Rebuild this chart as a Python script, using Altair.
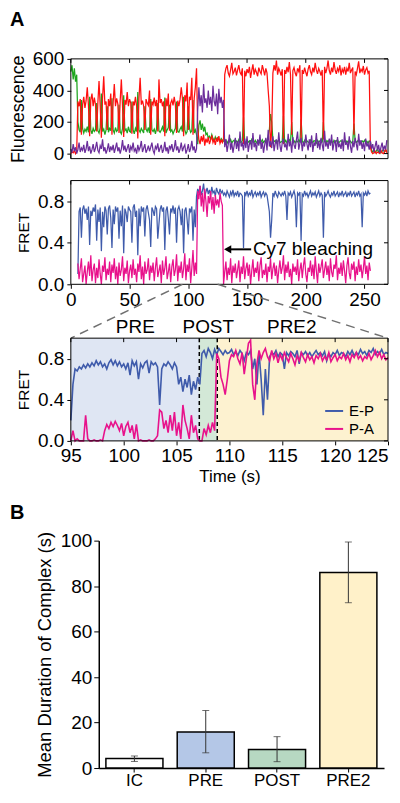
import altair as alt
import pandas as pd

FONT = "Liberation Sans"

# ---------------- Panel A, top: fluorescence traces (1 s per point from t = 0 s)
FL_T0 = 0
FL_DT = 1
GREEN = [
    520, 560, 470, 540, 455, 500,
    200, 150, 135, 340, 160, 130, 155, 140, 170, 135,
    360, 150, 125, 160, 140, 150, 320, 145, 130, 165,
    380, 140, 155, 120, 150, 300, 135, 160, 145, 350,
    150, 130, 165, 140, 150, 310, 140, 125, 160, 370,
    145, 155, 130, 170, 140, 135, 330, 150, 125, 160,
    140, 390, 150, 135, 160, 145, 130, 300, 155, 140,
    165, 130, 345, 150, 140, 155, 125, 160, 320, 145,
    135, 150, 170, 140, 355, 130, 150, 165, 310, 140,
    150, 125, 145, 160, 330, 140, 135, 155, 170, 140,
    360, 150, 125, 140, 300, 160, 135, 145, 340, 130, 150, 120,
    60, 180, 210, 150, 190, 140, 170, 120, 130, 100,
    110, 90, 120, 95, 80, 105, 85, 100, 90, 75,
    95, 85, 80,
    70, 85, 65, 80, 75, 90, 68, 78, 85, 72,
    80, 66, 88, 74, 70, 82, 230, 76, 68, 85,
    72, 80, 65, 90, 75, 70, 84, 68, 78, 82,
    66, 74, 88, 70, 80, 72, 85, 110, 150, 250,
    200, 90, 75, 82, 68, 78, 86, 70, 74, 80,
    240, 72, 84, 66, 78, 88, 70, 200, 76, 82,
    68, 80, 74, 86, 70, 220, 78, 66, 84, 72,
    80, 74, 68, 86, 76, 70, 82, 78, 66, 84,
    72, 80, 88, 70, 200, 76, 68, 82, 74, 86,
    70, 78, 66, 84, 72, 80, 88, 68, 76, 82,
    74, 66, 86, 72, 80, 70, 84, 78, 68, 76,
    190, 82, 70, 78, 86, 66, 74, 80, 72, 84,
    70, 78, 66, 80, 74,
    20, 10, 25, 5, 15, 30, 10, 20, 5, 15, 25, 10, 20, 15,
]
RED = [
    0, 10, 5, 20, 0, 15,
    330, 300, 345, 120, 310, 360, 290, 335, 420, 305,
    110, 340, 380, 300, 355, 310, 140, 320, 460, 300,
    100, 350, 490, 310, 330, 150, 345, 300, 380, 120,
    320, 440, 300, 350, 315, 130, 335, 470, 300, 105,
    340, 310, 390, 300, 345, 320, 125, 330, 305, 360,
    300, 95, 350, 480, 310, 335, 300, 150, 345, 320,
    305, 400, 120, 330, 310, 355, 300, 340, 140, 470,
    320, 345, 300, 330, 110, 350, 300, 380, 145, 320,
    340, 305, 360, 310, 130, 335, 300, 345, 420, 350,
    110, 370, 330, 450, 150, 360, 340, 480, 120, 350, 420, 540,
    160, 90, 60, 110, 75, 120, 50, 95, 70, 105,
    60, 85, 115, 70, 90, 55, 100, 75, 110, 65,
    85, 70, 95,
    500, 540, 560, 510, 490, 530, 575, 505, 520, 545,
    495, 530, 560, 515, 500, 540, 60, 525, 490, 535,
    510, 550, 480, 525, 565, 500, 535, 515, 490, 545,
    520, 505, 560, 530, 495, 540, 510, 400, 300, 40,
    150, 510, 560, 525, 590, 500, 540, 520, 495, 535,
    60, 530, 505, 550, 515, 580, 500, 120, 525, 545,
    510, 490, 540, 520, 560, 80, 530, 505, 545, 515,
    490, 535, 560, 520, 500, 545, 515, 575, 530, 505,
    540, 520, 495, 530, 90, 550, 510, 540, 590, 525,
    500, 545, 515, 580, 530, 505, 540, 520, 560, 495,
    535, 515, 550, 500, 540, 520, 575, 510, 530, 545,
    120, 520, 500, 540, 585, 510, 535, 520, 555, 500,
    530, 545, 510, 525, 40,
    10, 0, 5, 15, 0, 10, 5, 0, 20, 5, 0, 10, 30, 5,
]
PURPLE = [
    30, 5, 60, 15, 40, 0, 25, 70, 10, 35,
    20, 55, 5, 30, 80, 15, 45, 0, 25, 60,
    10, 35, 75, 20, 5, 50, 30, 90, 15, 40,
    0, 25, 65, 10, 45, 20, 55, 5, 35, 70,
    15, 40, 0, 30, 85, 20, 50, 10, 35, 60,
    5, 45, 25, 70, 15, 30, 0, 55, 20, 40,
    80, 10, 35, 60, 5, 25, 50, 15, 40, 70,
    20, 0, 45, 30, 65, 10, 35, 55, 5, 25,
    75, 15, 40, 0, 50, 30, 60, 10, 35, 85,
    20, 45, 5, 30, 70, 15, 40, 55, 0, 25,
    60, 10, 35, 80, 20, 45, 5, 30,
    280, 420, 300, 370, 260, 440, 320, 350, 290, 400,
    310, 360, 270, 430, 330, 300, 380, 250, 410, 320,
    360, 290, 340,
    40, 90, 10, 60, 120, 25, 70, 5, 50, 100,
    30, 80, 15, 140, 45, 65, 20, 95, 35, 110,
    10, 60, 85, 25, 130, 40, 70, 15, 90, 50,
    120, 30, 75, 5, 55, 100, 20, 150, 45, 80,
    35, 110, 15, 65, 90, 25, 135, 50, 10, 70,
    95, 40, 60, 20, 125, 45, 80, 5, 105, 55,
    30, 85, 140, 25, 65, 100, 15, 75, 45, 120,
    60, 20, 90, 40, 115, 10, 70, 50, 130, 35,
    80, 25, 100, 55, 15, 145, 45, 75, 30, 95,
    50, 120, 20, 65, 85, 10, 105, 40, 60, 30,
    90, 15, 135, 55, 75, 25, 110, 45, 5, 80,
    40, 100, 60, 20, 125, 50, 85, 30, 70, 15,
    95, 45, 65, 25, 80,
    30, 60, 10, 45, 80, 20, 55, 5, 40, 70, 15, 50, 25, 85,
]

# ---------------- Panel A, middle: FRET traces (1 s per point from t = 6 s)
FRET_T0 = 6
FRET_DT = 1
FRET_EP = [
    0.10, 0.70, 0.74, 0.45, 0.72, 0.76, 0.68, 0.73, 0.62, 0.75,
    0.38, 0.71, 0.66, 0.74, 0.70, 0.77, 0.42, 0.72, 0.60, 0.74,
    0.32, 0.70, 0.55, 0.75, 0.71, 0.48, 0.73, 0.76, 0.64, 0.35,
    0.72, 0.58, 0.75, 0.70, 0.74, 0.44, 0.71, 0.56, 0.76, 0.30,
    0.73, 0.69, 0.60, 0.75, 0.72, 0.70, 0.40, 0.74, 0.77, 0.65,
    0.71, 0.28, 0.73, 0.56, 0.75, 0.70, 0.74, 0.46, 0.72, 0.76,
    0.69, 0.62, 0.36, 0.74, 0.71, 0.66, 0.75, 0.73, 0.44, 0.58,
    0.72, 0.76, 0.70, 0.74, 0.33, 0.71, 0.75, 0.63, 0.48, 0.73,
    0.70, 0.76, 0.68, 0.74, 0.40, 0.72, 0.75, 0.70, 0.57, 0.73,
    0.30, 0.71, 0.74, 0.62, 0.48, 0.73, 0.70, 0.75, 0.42, 0.72, 0.55, 0.85,
    0.92, 0.88, 0.95, 0.86, 0.90, 0.97, 0.85, 0.89, 0.93, 0.87,
    0.91, 0.86, 0.94, 0.88, 0.90, 0.85, 0.93, 0.89, 0.87, 0.92,
    0.88, 0.90, 0.86,
    0.88, 0.85, 0.90, 0.87, 0.84, 0.89, 0.86, 0.91, 0.85, 0.88,
    0.86, 0.90, 0.84, 0.88, 0.87, 0.85, 0.35, 0.89, 0.86, 0.90,
    0.85, 0.88, 0.86, 0.91, 0.84, 0.87, 0.89, 0.85, 0.88, 0.86,
    0.90, 0.84, 0.87, 0.89, 0.85, 0.88, 0.86, 0.78, 0.70, 0.45,
    0.62, 0.88, 0.85, 0.90, 0.86, 0.84, 0.89, 0.87, 0.85, 0.88,
    0.86, 0.90, 0.85, 0.62, 0.88, 0.86, 0.89, 0.84, 0.87, 0.90,
    0.85, 0.55, 0.88, 0.86, 0.89, 0.42, 0.87, 0.85, 0.90, 0.86,
    0.88, 0.84, 0.87, 0.90, 0.85, 0.88, 0.86, 0.89, 0.84, 0.87,
    0.90, 0.85, 0.88, 0.86, 0.45, 0.89, 0.85, 0.87, 0.90, 0.86,
    0.84, 0.88, 0.86, 0.90, 0.85, 0.87, 0.89, 0.84, 0.88, 0.86,
    0.90, 0.85, 0.87, 0.89, 0.84, 0.88, 0.86, 0.90, 0.85, 0.87,
    0.89, 0.84, 0.88, 0.86, 0.90, 0.85, 0.87, 0.55, 0.88, 0.86,
    0.89, 0.85, 0.90, 0.87, 0.88,
]
FRET_PA = [
    0.20, 0.05, 0.15, 0.25, 0.02, 0.10, 0.18, 0.00, 0.12, 0.22,
    0.08, 0.28, 0.03, 0.14, 0.20, 0.01, 0.16, 0.06, 0.24, 0.10,
    0.00, 0.18, 0.12, 0.26, 0.04, 0.15, 0.09, 0.22, 0.02, 0.19,
    0.11, 0.25, 0.05, 0.17, 0.00, 0.21, 0.08, 0.14, 0.27, 0.03,
    0.16, 0.10, 0.23, 0.01, 0.13, 0.19, 0.06, 0.24, 0.09, 0.15,
    0.02, 0.20, 0.12, 0.28, 0.05, 0.17, 0.00, 0.22, 0.10, 0.14,
    0.25, 0.04, 0.18, 0.11, 0.21, 0.03, 0.16, 0.26, 0.07, 0.13,
    0.19, 0.01, 0.23, 0.09, 0.15, 0.27, 0.05, 0.12, 0.20, 0.02,
    0.17, 0.24, 0.08, 0.14, 0.29, 0.03, 0.18, 0.11, 0.22, 0.06,
    0.15, 0.30, 0.04, 0.19, 0.12, 0.25, 0.01, 0.16, 0.33, 0.08, 0.21, 0.10,
    0.90, 0.82, 0.95, 0.75, 0.88, 0.70, 0.92, 0.80, 0.65, 0.85,
    0.78, 0.90, 0.72, 0.84, 0.68, 0.86, 0.76, 0.82, 0.74, 0.88,
    0.80, 0.76, 0.00,
    0.12, 0.22, 0.04, 0.16, 0.09, 0.25, 0.01, 0.18, 0.11, 0.20,
    0.06, 0.14, 0.23, 0.02, 0.17, 0.10, 0.27, 0.05, 0.15, 0.21,
    0.08, 0.19, 0.00, 0.13, 0.24, 0.07, 0.16, 0.11, 0.22, 0.03,
    0.18, 0.26, 0.06, 0.14, 0.09, 0.20, 0.02, 0.17, 0.12, 0.25,
    0.05, 0.15, 0.21, 0.08, 0.18, 0.01, 0.13, 0.23, 0.10, 0.16,
    0.28, 0.04, 0.19, 0.11, 0.22, 0.07, 0.15, 0.00, 0.20, 0.12,
    0.17, 0.09, 0.24, 0.03, 0.14, 0.21, 0.06, 0.18, 0.26, 0.10,
    0.02, 0.16, 0.12, 0.23, 0.08, 0.19, 0.05, 0.27, 0.13, 0.01,
    0.20, 0.11, 0.17, 0.24, 0.06, 0.14, 0.22, 0.09, 0.18, 0.03,
    0.25, 0.12, 0.07, 0.19, 0.15, 0.28, 0.04, 0.16, 0.10, 0.21,
    0.08, 0.23, 0.13, 0.01, 0.18, 0.26, 0.11, 0.05, 0.20, 0.14,
    0.22, 0.03, 0.17, 0.09, 0.24, 0.12, 0.19, 0.06, 0.15, 0.27,
    0.10, 0.18, 0.04, 0.21, 0.13,
]

# ---------------- Panel A, bottom: zoom 95-125 s (0.2 s per point)
ZOOM_T0 = 95
ZOOM_DT = 0.2
ZOOM_EP = [
    0.20, 0.55, 0.70, 0.68, 0.72, 0.70, 0.74, 0.71, 0.75, 0.72,
    0.76, 0.73, 0.78, 0.74, 0.77, 0.72, 0.75, 0.70, 0.76, 0.79,
    0.74, 0.78, 0.73, 0.77, 0.72, 0.75, 0.70, 0.76, 0.64, 0.78,
    0.73, 0.77, 0.60, 0.75, 0.71, 0.76, 0.78, 0.66, 0.77, 0.74,
    0.76, 0.72, 0.35, 0.70, 0.75, 0.73, 0.77, 0.74, 0.70, 0.76,
    0.72, 0.55, 0.62, 0.48, 0.60, 0.52, 0.64, 0.45, 0.58, 0.50,
    0.62, 0.55, 0.85, 0.88, 0.82, 0.90, 0.86, 0.80, 0.89, 0.84,
    0.90, 0.87, 0.84, 0.88, 0.85, 0.86, 0.89, 0.84, 0.87, 0.83,
    0.88, 0.85, 0.78, 0.86, 0.84, 0.88, 0.70, 0.80, 0.55, 0.86,
    0.60, 0.25, 0.70, 0.40, 0.82, 0.86, 0.84, 0.88, 0.82, 0.86,
    0.84, 0.70, 0.86, 0.83, 0.87, 0.85, 0.82, 0.88, 0.75, 0.86,
    0.84, 0.87, 0.83, 0.86, 0.82, 0.85, 0.88, 0.84, 0.86, 0.83,
    0.87, 0.78, 0.85, 0.82, 0.86, 0.84, 0.88, 0.83, 0.86, 0.85,
    0.82, 0.87, 0.84, 0.88, 0.83, 0.86, 0.84, 0.89, 0.85, 0.87,
    0.83, 0.88, 0.86, 0.90, 0.84, 0.87, 0.85, 0.89, 0.84, 0.86,
    0.85,
]
ZOOM_PA = [
    0.00, 0.10, 0.00, 0.02, 0.00, 0.00, 0.00, 0.25, 0.02, 0.00,
    0.00, 0.01, 0.00, 0.00, 0.01, 0.00, 0.10, 0.16, 0.12, 0.18,
    0.14, 0.19, 0.15, 0.10, 0.17, 0.05, 0.14, 0.18, 0.08, 0.15,
    0.02, 0.16, 0.00, 0.01, 0.00, 0.00, 0.00, 0.01, 0.00, 0.00,
    0.02, 0.05, 0.30, 0.28, 0.12, 0.20, 0.08, 0.25, 0.10, 0.28,
    0.05, 0.18, 0.02, 0.35, 0.20, 0.12, 0.02, 0.25, 0.08, 0.15,
    0.02, 0.00, 0.00, 0.12, 0.06, 0.15, 0.08, 0.18, 0.10, 0.85,
    0.80, 0.62, 0.55, 0.45, 0.60, 0.78, 0.84, 0.82, 0.88, 0.80,
    0.75, 0.86, 0.65, 0.80, 0.95, 0.98, 0.55, 0.40, 0.75, 0.88,
    0.80, 0.86, 0.90, 0.82, 0.78, 0.88, 0.80, 0.85, 0.76, 0.84,
    0.79, 0.86, 0.81, 0.77, 0.85, 0.80, 0.74, 0.83, 0.78, 0.86,
    0.81, 0.77, 0.84, 0.79, 0.82, 0.76, 0.83, 0.80, 0.85, 0.78,
    0.82, 0.79, 0.86, 0.77, 0.81, 0.84, 0.78, 0.82, 0.80, 0.85,
    0.79, 0.83, 0.77, 0.84, 0.81, 0.86, 0.80, 0.83, 0.78, 0.82,
    0.80, 0.85, 0.79, 0.83, 0.88, 0.82, 0.86, 0.80, 0.84, 0.79,
    0.81,
]
SERIES_NAMES = ["E-P", "P-A"]

REGION_NAMES = ["PRE", "POST", "PRE2"]
REGION_START = [95, 107.15, 108.85]
REGION_END = [107.15, 108.85, 125]
REGION_LABEL_X = [101.1, 108.0, 115.9]
REGION_BOUNDS = [107.15, 108.85]

BLEACH_ARROW = [133.5, 153.5]
BLEACH_TEXT_T = 155
BLEACH_Y = 0.337
ZOOM_WINDOW = [95, 125]

# ---------------- Panel B: bar chart
BAR_CATS = ["IC", "PRE", "POST", "PRE2"]
BAR_MEAN = [4.2, 15.9, 8.2, 86.0]
BAR_LO = [2.9, 6.7, 2.8, 72.7]
BAR_HI = [5.3, 25.3, 13.8, 99.4]

FL_TICKS = [0, 200, 400, 600]
T_TICKS = [0, 50, 100, 150, 200, 250]
FRET_TICKS = [0.0, 0.4, 0.8]
ZOOM_TICKS = [95, 100, 105, 110, 115, 120, 125]
BAR_TICKS = [0, 20, 40, 60, 80, 100]

# ---------------- styling
C_RED, C_GREEN, C_PURPLE = "#ff1010", "#1ea51e", "#6b2d9b"
C_BLUE, C_PINK = "#3f5bab", "#e8128b"
REGION_COLORS = ["#dfe6f3", "#d3e8d7", "#fdf2d0"]
BAR_COLORS = ["#ffffff", "#b4c7e7", "#b7d8c2", "#fff1c9"]

W = 318
H1, H2, H3, H4 = 100, 104, 103, 228
GAP12, GAP23, GAP34 = 22, 54, 100
TIN = 4
TRACE_W = 1.25


def times(t0, dt, n):
    return [round(t0 + i * dt, 2) for i in range(n)]


one = pd.DataFrame({"z": [0]})


def frame(h):
    return alt.Chart(one).mark_rect(filled=False, stroke="black", strokeWidth=1).encode(
        x=alt.value(0), x2=alt.value(W), y=alt.value(0), y2=alt.value(h))


def left_axis(values, title, fmt, tsize, tpad):
    return alt.Axis(values=values, format=fmt, title=title, titleFontSize=tsize,
                    titlePadding=tpad, labelFontSize=19, tickSize=4, labelPadding=3,
                    domain=False, grid=False)


def bottom_axis(values, title=None, tsize=17, tpad=3, last_right=None):
    kw = dict(values=values, format="d", labelFontSize=19, tickSize=4, labelPadding=2,
              domain=False, grid=False)
    if last_right is not None:
        kw["labelAlign"] = alt.condition(f"datum.value == {last_right}",
                                         alt.value("right"), alt.value("center"))
    if title is None:
        return alt.Axis(title="", **kw)
    return alt.Axis(title=title, titleFontSize=tsize, titlePadding=tpad, **kw)


def x_in_ticks(vals, xenc, h, top=True, bottom=True):
    df = pd.DataFrame({"v": vals})
    out = []
    if top:
        out.append(alt.Chart(df).mark_rule(color="black", strokeWidth=1).encode(
            x=xenc("v"), y=alt.value(0), y2=alt.value(TIN)))
    if bottom:
        out.append(alt.Chart(df).mark_rule(color="black", strokeWidth=1).encode(
            x=xenc("v"), y=alt.value(h - TIN), y2=alt.value(h)))
    return out


def y_in_ticks(vals, yenc):
    df = pd.DataFrame({"v": vals})
    return [alt.Chart(df).mark_rule(color="black", strokeWidth=1).encode(
        y=yenc("v"), x=alt.value(W - TIN), x2=alt.value(W))]


# ---------- Panel 1: fluorescence
xs1 = alt.Scale(domain=[0, 270], nice=False, zero=False)
ys1 = alt.Scale(domain=[-32, 600], nice=False, zero=False)
ax1y = left_axis(FL_TICKS, "Fluorescence", "d", 18, 5)


def X1(f):
    return alt.X(f"{f}:Q", scale=xs1, axis=None)


def Y1(f):
    return alt.Y(f"{f}:Q", scale=ys1, axis=ax1y)


fl_df = pd.DataFrame({"t": times(FL_T0, FL_DT, len(GREEN)), "green": GREEN,
                      "red": RED, "purple": PURPLE})

g_line = alt.Chart(fl_df).mark_line(color=C_GREEN, strokeWidth=TRACE_W).encode(x=X1("t"), y=Y1("green"))
r_line = alt.Chart(fl_df).mark_line(color=C_RED, strokeWidth=TRACE_W).encode(x=X1("t"), y=Y1("red"))
p_line = alt.Chart(fl_df).mark_line(color=C_PURPLE, strokeWidth=TRACE_W).encode(x=X1("t"), y=Y1("purple"))
label_a = alt.Chart(one).mark_text(text="A", font=FONT, fontSize=20, fontWeight="bold",
                                   align="left", baseline="top").encode(
    x=alt.value(-61), y=alt.value(-49))

panel1 = alt.layer(g_line, r_line, p_line, *x_in_ticks(T_TICKS, X1, H1),
                   *y_in_ticks(FL_TICKS, Y1), frame(H1), label_a).properties(width=W, height=H1)

# ---------- Panel 2: FRET
xs2 = alt.Scale(domain=[0, 270], nice=False, zero=False)
ys2 = alt.Scale(domain=[0, 1.0], nice=False, zero=False)
ax2x = bottom_axis(T_TICKS)
ax2y = left_axis(FRET_TICKS, "FRET", ".1f", 15.5, 6)


def X2(f):
    return alt.X(f"{f}:Q", scale=xs2, axis=ax2x)


def Y2(f):
    return alt.Y(f"{f}:Q", scale=ys2, axis=ax2y)


fr_df = pd.DataFrame({"t": times(FRET_T0, FRET_DT, len(FRET_EP)), "ep": FRET_EP, "pa": FRET_PA})

ep_line = alt.Chart(fr_df).mark_line(color=C_BLUE, strokeWidth=TRACE_W).encode(x=X2("t"), y=Y2("ep"))
pa_line = alt.Chart(fr_df).mark_line(color=C_PINK, strokeWidth=TRACE_W).encode(x=X2("t"), y=Y2("pa"))

conn_l = alt.Chart(pd.DataFrame({"t": [ZOOM_WINDOW[0]], "f": [0]})).mark_rule(
    color="#707070", strokeWidth=1.5, strokeDash=[9, 6]).encode(
    x=X2("t"), y=Y2("f"), x2=alt.value(0), y2=alt.value(H2 + GAP23))
conn_r = alt.Chart(pd.DataFrame({"t": [ZOOM_WINDOW[1]], "f": [0]})).mark_rule(
    color="#707070", strokeWidth=1.5, strokeDash=[9, 6]).encode(
    x=X2("t"), y=Y2("f"), x2=alt.value(W), y2=alt.value(H2 + GAP23))

arrow_df = pd.DataFrame({"t": [BLEACH_ARROW[0]], "t2": [BLEACH_ARROW[1]], "f": [BLEACH_Y]})
arrow_shaft = alt.Chart(arrow_df).mark_rule(color="black", strokeWidth=2).encode(
    x=X2("t"), x2="t2:Q", y=Y2("f"))
arrow_head = alt.Chart(arrow_df).mark_point(shape="triangle-left", filled=True, color="black",
                                            opacity=1, size=70).encode(x=X2("t"), y=Y2("f"))
bleach_txt = alt.Chart(pd.DataFrame({"t": [BLEACH_TEXT_T], "f": [BLEACH_Y],
                                     "s": ["Cy7 bleaching"]})).mark_text(
    font=FONT, fontSize=19, align="left", baseline="middle", color="black").encode(
    x=X2("t"), y=Y2("f"), text="s:N")

panel2 = alt.layer(ep_line, pa_line, *x_in_ticks(T_TICKS, X2, H2, bottom=False),
                   *y_in_ticks(FRET_TICKS, Y2), frame(H2), conn_l, conn_r,
                   arrow_shaft, arrow_head, bleach_txt).properties(width=W, height=H2)

# ---------- Panel 3: zoom
xs3 = alt.Scale(domain=ZOOM_WINDOW, nice=False, zero=False)
ys3 = alt.Scale(domain=[0, 1.0], nice=False, zero=False)
ax3x = bottom_axis(ZOOM_TICKS, "Time (s)", 17, 3, last_right=ZOOM_WINDOW[1])
ax3y = left_axis(FRET_TICKS, "FRET", ".1f", 15.5, 6)


def X3(f):
    return alt.X(f"{f}:Q", scale=xs3, axis=ax3x)


def Y3(f):
    return alt.Y(f"{f}:Q", scale=ys3, axis=ax3y)


zt = times(ZOOM_T0, ZOOM_DT, len(ZOOM_EP))
zoom_df = pd.DataFrame({
    "t": zt + zt,
    "f": ZOOM_EP + ZOOM_PA,
    "series": [SERIES_NAMES[0]] * len(ZOOM_EP) + [SERIES_NAMES[1]] * len(ZOOM_PA),
})
reg_df = pd.DataFrame({"region": REGION_NAMES, "start": REGION_START, "end": REGION_END,
                       "lx": REGION_LABEL_X})

regions = alt.Chart(reg_df).mark_rect().encode(
    x=X3("start"), x2="end:Q",
    y=alt.value(0), y2=alt.value(H3),
    fill=alt.Fill("region:N", scale=alt.Scale(domain=REGION_NAMES, range=REGION_COLORS),
                  legend=None))
bounds = alt.Chart(pd.DataFrame({"t": REGION_BOUNDS})).mark_rule(
    color="black", strokeWidth=1.5, strokeDash=[4, 3]).encode(
    x=X3("t"), y=alt.value(0), y2=alt.value(H3))
zoom_lines = alt.Chart(zoom_df).mark_line(strokeWidth=1.6).encode(
    x=X3("t"), y=Y3("f"),
    color=alt.Color("series:N", scale=alt.Scale(domain=SERIES_NAMES, range=[C_BLUE, C_PINK]),
                    legend=alt.Legend(title=None, orient="none", legendX=254, legendY=63,
                                      symbolType="stroke", symbolSize=324,
                                      symbolStrokeWidth=2, labelFontSize=15, labelFont=FONT,
                                      labelOffset=5, rowPadding=0, padding=0)),
    detail="series:N")
reg_labels = alt.Chart(reg_df).mark_text(font=FONT, fontSize=19, baseline="middle",
                                         color="black").encode(
    x=X3("lx"), y=alt.value(-11), text="region:N")

panel3 = alt.layer(regions, bounds, zoom_lines, reg_labels,
                   *x_in_ticks(ZOOM_TICKS, X3, H3, bottom=False),
                   *y_in_ticks(FRET_TICKS, Y3), frame(H3)).properties(width=W, height=H3)

# ---------- Panel 4: bars
bar_df = pd.DataFrame({"cat": BAR_CATS, "mean": BAR_MEAN, "lo": BAR_LO, "hi": BAR_HI})
xs4 = alt.Scale(domain=BAR_CATS, range=[28, 314], paddingInner=0.2, paddingOuter=0.1)
ys4 = alt.Scale(domain=[0, 100], nice=False, zero=True)
ax4x = alt.Axis(title="", labelAngle=0, labelFontSize=17, labelPadding=1,
                tickSize=4, domain=True, domainWidth=1.5, grid=False)
ax4y = alt.Axis(values=BAR_TICKS, title="Mean Duration of Complex (s)",
                titleFontSize=18.5, titlePadding=6, labelFontSize=19,
                labelPadding=2, tickSize=5, offset=-28, domain=True,
                domainWidth=1.5, grid=False)


def X4():
    return alt.X("cat:N", sort=BAR_CATS, scale=xs4, axis=ax4x)


def Y4(f):
    return alt.Y(f"{f}:Q", scale=ys4, axis=ax4y)


bars = alt.Chart(bar_df).mark_bar(stroke="black", strokeWidth=1.5).encode(
    x=X4(), y=Y4("mean"),
    fill=alt.Fill("cat:N", scale=alt.Scale(domain=BAR_CATS, range=BAR_COLORS), legend=None))
err = alt.Chart(bar_df).mark_rule(color="#333333", strokeWidth=1).encode(
    x=X4(), y=Y4("lo"), y2="hi:Q")
cap_lo = alt.Chart(bar_df).mark_tick(color="#333333", thickness=1, size=7).encode(
    x=X4(), y=Y4("lo"))
cap_hi = alt.Chart(bar_df).mark_tick(color="#333333", thickness=1, size=7).encode(
    x=X4(), y=Y4("hi"))
label_b = alt.Chart(one).mark_text(text="B", font=FONT, fontSize=20, fontWeight="bold",
                                   align="left", baseline="top").encode(
    x=alt.value(-61), y=alt.value(-38))

panel4 = alt.layer(bars, err, cap_lo, cap_hi, label_b).properties(width=W, height=H4)


def spacer(h):
    return alt.Chart(one).mark_point(opacity=0).encode(
        x=alt.value(0), y=alt.value(0)).properties(width=W, height=h)


chart = alt.vconcat(panel1, spacer(GAP12), panel2, spacer(GAP23), panel3, spacer(GAP34),
                    panel4, spacing=0, bounds="flush").resolve_scale(
    x="independent", y="independent", color="independent", fill="independent"
).properties(padding=0).configure_view(stroke="transparent").configure_axis(
    labelFont=FONT, titleFont=FONT, labelColor="black", titleColor="black",
    tickColor="black", domainColor="black", titleFontWeight="normal",
    labelFlush=False, labelOverlap=False)

chart.save("out.html", embed_options={"renderer": "svg", "actions": False})
